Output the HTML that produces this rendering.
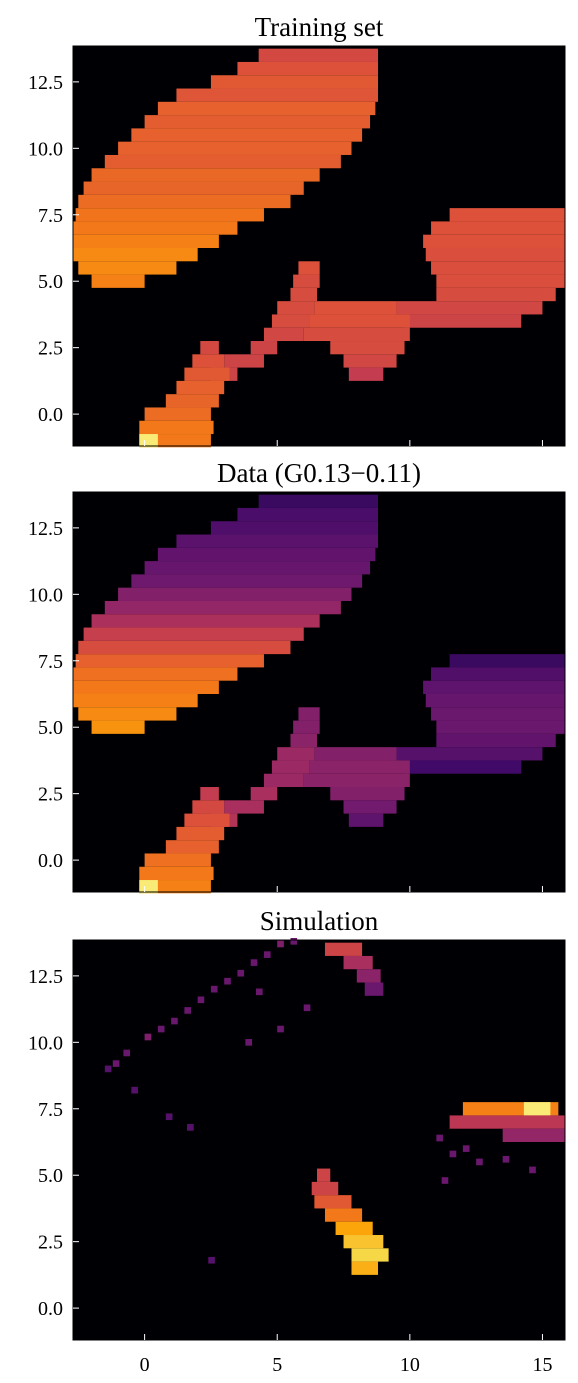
<!DOCTYPE html>
<html><head><meta charset="utf-8">
<style>
html,body{margin:0;padding:0;background:#fff;}
svg{display:block;font-family:"Liberation Serif",serif;}
</style></head>
<body>
<svg id="fig" width="578" height="1383"></svg>
<script>
// ---- data ----
const panelTitles = ["Training set", "Data (G0.13\u22120.11)", "Simulation"];
const xTicks = [0, 5, 10, 15];
const xTickLabels = ["0", "5", "10", "15"];
const yTicks = [0, 2.5, 5, 7.5, 10, 12.5];
const yTickLabels = ["0.0", "2.5", "5.0", "7.5", "10.0", "12.5"];
// segments: [yCenter, x0, x1, value]  (row height 0.5)
const trainSegs = [
 [13.5,4.3,8.8,.57],[13,3.5,8.8,.6],[12.5,2.5,8.8,.62],[12,1.2,8.8,.61],[11.5,0.5,8.7,.64],
 [11,0,8.5,.63],[10.5,-0.5,8.2,.64],[10,-1,7.8,.64],[9.5,-1.5,7.4,.63],[9,-2,6.6,.66],
 [8.5,-2.3,6,.65],[8,-2.5,5.5,.67],[7.5,-2.6,4.5,.69],[7,-2.7,3.5,.7],[6.5,-2.7,2.8,.72],
 [6,-2.7,2,.74],[5.5,-2.5,1.2,.74],[5,-2,0,.72],
 [7.5,11.5,15.85,.6],[7,10.8,15.85,.6],[6.5,10.5,15.85,.6],[6,10.6,15.85,.59],[5.5,10.8,15.85,.59],
 [5,11,15.85,.59],[4.5,11,15.5,.58],[4,9.5,15,.56],[3.5,9.8,14.2,.55],
 [4,6.4,9.5,.6],[3.5,6.2,10,.6],[3,6,10,.58],[2.5,7,9.8,.58],[2,7.5,9.5,.56],[1.5,7.7,9,.52],
 [5.5,5.8,6.6,.6],[5,5.6,6.6,.58],[4.5,5.5,6.5,.58],[4,5,6.4,.58],[3.5,4.8,6.2,.58],[3,4.5,6,.56],
 [2.5,4,5,.55],[2,3,4.5,.55],[1.5,2.5,3.5,.55],
 [2.5,2.1,2.8,.57],[2,1.8,3,.6],[1.5,1.5,3.2,.62],[1,1.2,3,.64],[0.5,0.8,2.8,.65],[0,0,2.5,.67],
 [-0.5,-0.2,2.6,.7],[-1,-0.2,2.5,.7],[-1,-0.2,0.5,.95]
];
const dataSegs = [
 [13.5,4.3,8.8,.18],[13,3.5,8.8,.22],[12.5,2.5,8.8,.23],[12,1.2,8.8,.26],[11.5,0.5,8.7,.28],
 [11,0,8.5,.29],[10.5,-0.5,8.2,.31],[10,-1,7.8,.36],[9.5,-1.5,7.4,.4],[9,-2,6.6,.46],
 [8.5,-2.3,6,.53],[8,-2.5,5.5,.58],[7.5,-2.6,4.5,.64],[7,-2.7,3.5,.68],[6.5,-2.7,2.8,.7],
 [6,-2.7,2,.72],[5.5,-2.5,1.2,.74],[5,-2,0,.76],
 [7.5,11.5,15.85,.18],[7,10.8,15.85,.24],[6.5,10.5,15.85,.27],[6,10.6,15.85,.29],[5.5,10.8,15.85,.3],
 [5,11,15.85,.3],[4.5,11,15.5,.28],[4,9.5,15,.25],[3.5,9.8,14.2,.2],
 [4,6.4,9.5,.36],[3.5,6.2,10,.38],[3,6,10,.38],[2.5,7,9.8,.36],[2,7.5,9.5,.32],[1.5,7.7,9,.27],
 [5.5,5.8,6.6,.36],[5,5.6,6.6,.36],[4.5,5.5,6.5,.38],[4,5,6.4,.42],[3.5,4.8,6.2,.42],[3,4.5,6,.42],
 [2.5,4,5,.45],[2,3,4.5,.45],[1.5,2.5,3.5,.48],
 [2.5,2.1,2.8,.52],[2,1.8,3,.57],[1.5,1.5,3.2,.6],[1,1.2,3,.63],[0.5,0.8,2.8,.64],[0,0,2.5,.68],
 [-0.5,-0.2,2.6,.7],[-1,-0.2,2.5,.72],[-1,-0.2,0.5,.95]
];
const simSegs = [
 [13.5,6.8,8.2,.55],[13,7.5,8.6,.45],[12.5,8,8.9,.38],[12,8.3,9,.3],
 [7.5,12,15.6,.72],[7.5,14.3,15.3,.95],[7,11.5,15.85,.5],[6.5,13.5,15.85,.4],
 [5,6.5,7,.55],[4.5,6.3,7.3,.55],[4,6.4,7.8,.62],[3.5,6.8,8.2,.7],[3,7.2,8.6,.8],[2.5,7.5,9,.86],
 [2,7.8,9.2,.9],[1.5,7.8,8.8,.82]
];
const simDotsX = [-1.2,-0.8,0,0.5,1,1.5,2,2.5,3,3.5,4,4.5,5,5.5,5,-1.5,-0.5,0.8,1.6,2.4,3.8,11,11.5,12,12.5,13.5,14.5,11.2,6,4.2];
const simDotsY = [9.2,9.6,10.2,10.5,10.8,11.2,11.6,12,12.3,12.6,13,13.3,13.7,13.8,10.5,9,8.2,7.2,6.8,1.8,10,6.4,5.8,6,5.5,5.6,5.2,4.8,11.3,11.9];
const simDotsV = [.3,.3,.35,.3,.3,.3,.3,.3,.3,.3,.3,.3,.35,.3,.3,.25,.25,.25,.25,.25,.3,.3,.3,.3,.3,.3,.3,.3,.3,.3];

// ---- rendering ----
const NS="http://www.w3.org/2000/svg";
const svg=document.getElementById('fig');
const X0=73,X1=565,XMIN=-2.7,XMAX=15.85;
const YMIN=-1.2,YMAX=13.85;
const panelTops=[46,492,940], PH=400;
const sx=v=>X0+(v-XMIN)/(XMAX-XMIN)*(X1-X0);
const stops=["#000004","#160b39","#420a68","#6a176e","#932667","#bc3754","#dd513a","#f37819","#fca50a","#f6d746","#fcffa4"];
function cmap(v){v=Math.max(0,Math.min(1,v));const i=Math.min(9,Math.floor(v*10));const t=v*10-i;
 const a=stops[i],b=stops[i+1];const c=k=>Math.round(parseInt(a.substr(k,2),16)*(1-t)+parseInt(b.substr(k,2),16)*t);
 return `rgb(${c(1)},${c(3)},${c(5)})`;}
function mk(tag,attrs,parent){const e=document.createElementNS(NS,tag);for(const k in attrs)e.setAttribute(k,attrs[k]);(parent||svg).appendChild(e);return e;}
const allSegs=[trainSegs,dataSegs,simSegs];
panelTops.forEach((top,p)=>{
 const sy=v=>top+(YMAX-v)/(YMAX-YMIN)*PH;
 const g=mk('g',{});
 
 
 const bg=mk('rect',{x:X0,y:top,width:X1-X0,height:PH,fill:'#000004'},g);
 
 
 allSegs[p].forEach(s=>{
  const y0=sy(s[0]+0.25),y1=sy(s[0]-0.25);
  const r=mk('rect',{x:sx(s[1]),y:y0,width:sx(s[2])-sx(s[1]),height:y1-y0,fill:cmap(s[3])},g);
  
  
 });
 if(p===2){simDotsX.forEach((x,i)=>{
  const r=mk('rect',{x:sx(x),y:sy(simDotsY[i]+0.125),width:sx(0.25)-sx(0),height:sy(0)-sy(0.25),fill:cmap(simDotsV[i])},g);
  
  
 });}
 const fr=mk('rect',{x:X0,y:top,width:X1-X0,height:PH,fill:'none',stroke:'#000','stroke-width':1},g);
 
 
 const t=mk('text',{x:(X0+X1)/2,y:top-10,'text-anchor':'middle','font-size':27},g);
 t.textContent=panelTitles[p];
 
 
 yTicks.forEach((v,i)=>{
  const y=sy(v);
  mk('line',{x1:X0,x2:X0+6,y1:y,y2:y,stroke:'#fff','stroke-width':1},g);
  const l=mk('text',{x:63,y:y+7,'text-anchor':'end','font-size':20},g);
  l.textContent=yTickLabels[i];
  
  
 });
 xTicks.forEach(v=>{mk('line',{x1:sx(v),x2:sx(v),y1:top+PH,y2:top+PH-6,stroke:'#fff','stroke-width':1},g);});
 if(p===2){xTicks.forEach((v,i)=>{
  const l=mk('text',{x:sx(v),y:top+PH+31,'text-anchor':'middle','font-size':20},g);
  l.textContent=xTickLabels[i];
  
  
 });}
});
</script>
</body></html>
